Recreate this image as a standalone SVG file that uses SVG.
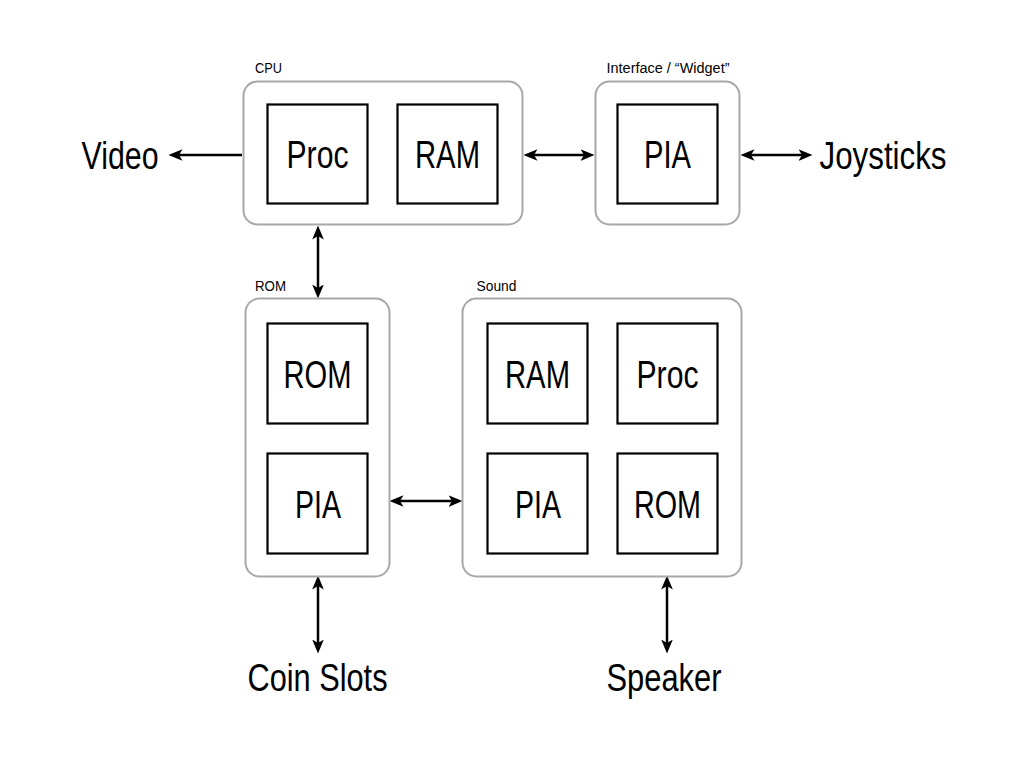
<svg xmlns="http://www.w3.org/2000/svg" width="1024" height="768" viewBox="0 0 1024 768">
<defs>
<style>
.grp{fill:#fff;stroke:#a8a8a8;stroke-width:2}
.box{fill:#fff;stroke:#000;stroke-width:2.2}
.big{font-family:"Liberation Sans Narrow","Liberation Sans",Arial,sans-serif;font-size:38px;fill:#000;text-anchor:middle}
.sm{font-family:"Liberation Sans Narrow","Liberation Sans",Arial,sans-serif;font-size:14px;fill:#000}
.con{stroke:#000;stroke-width:2.5;fill:none;marker-end:url(#ah)}
.bi{marker-start:url(#ah)}
</style>
<marker id="ah" markerUnits="userSpaceOnUse" markerWidth="14" markerHeight="12" refX="3" refY="5" orient="auto-start-reverse" viewBox="0 0 12 10">
<path d="M0,0 L12,5 L0,10 L3,5 z" fill="#000"/>
</marker>
</defs>
<rect width="1024" height="768" fill="#fff"/>

<g id="connectors">
<line class="con" x1="242" y1="155" x2="179" y2="155"/>
<line class="con bi" x1="534" y1="155" x2="584" y2="155"/>
<line class="con bi" x1="751" y1="155" x2="802" y2="155"/>
<line class="con bi" x1="318" y1="236" x2="318" y2="288"/>
<line class="con bi" x1="400" y1="501" x2="452" y2="501"/>
<line class="con bi" x1="318" y1="586" x2="318" y2="643"/>
<line class="con bi" x1="667" y1="586" x2="667" y2="643"/>
</g>

<g id="cpu">
<rect class="grp" x="243.5" y="81.5" width="279" height="143" rx="14"/>
<text class="sm" x="255" y="73" textLength="27" lengthAdjust="spacingAndGlyphs">CPU</text>
<g id="cpu-proc">
<rect class="box" x="267.5" y="104.5" width="100" height="99"/>
<text class="big" x="317.5" y="167.5" textLength="62" lengthAdjust="spacingAndGlyphs">Proc</text>
</g>
<g id="cpu-ram">
<rect class="box" x="397.5" y="104.5" width="100" height="99"/>
<text class="big" x="447.5" y="167.5" textLength="65" lengthAdjust="spacingAndGlyphs">RAM</text>
</g>
</g>

<g id="interface">
<rect class="grp" x="595.5" y="81.5" width="144" height="143" rx="14"/>
<text class="sm" x="606.5" y="73" textLength="123" lengthAdjust="spacingAndGlyphs">Interface / “Widget”</text>
<g id="if-pia">
<rect class="box" x="617.5" y="104.5" width="100" height="99"/>
<text class="big" x="667.5" y="167.5" textLength="47" lengthAdjust="spacingAndGlyphs">PIA</text>
</g>
</g>

<g id="rom">
<rect class="grp" x="245.5" y="298.5" width="144" height="278" rx="14"/>
<text class="sm" x="255" y="291" textLength="31" lengthAdjust="spacingAndGlyphs">ROM</text>
<g id="rom-rom">
<rect class="box" x="267.5" y="323.5" width="100" height="100"/>
<text class="big" x="317.5" y="387.5" textLength="68" lengthAdjust="spacingAndGlyphs">ROM</text>
</g>
<g id="rom-pia">
<rect class="box" x="267.5" y="453.5" width="100" height="100"/>
<text class="big" x="318" y="517.5" textLength="46" lengthAdjust="spacingAndGlyphs">PIA</text>
</g>
</g>

<g id="sound">
<rect class="grp" x="462.5" y="298.5" width="279" height="278" rx="14"/>
<text class="sm" x="476.5" y="291" textLength="40" lengthAdjust="spacingAndGlyphs">Sound</text>
<g id="snd-ram">
<rect class="box" x="487.5" y="323.5" width="100" height="100"/>
<text class="big" x="537.5" y="387.5" textLength="65" lengthAdjust="spacingAndGlyphs">RAM</text>
</g>
<g id="snd-proc">
<rect class="box" x="617.5" y="323.5" width="100" height="100"/>
<text class="big" x="667.5" y="387.5" textLength="62" lengthAdjust="spacingAndGlyphs">Proc</text>
</g>
<g id="snd-pia">
<rect class="box" x="487.5" y="453.5" width="100" height="100"/>
<text class="big" x="538" y="517.5" textLength="46" lengthAdjust="spacingAndGlyphs">PIA</text>
</g>
<g id="snd-rom">
<rect class="box" x="617.5" y="453.5" width="100" height="100"/>
<text class="big" x="667.5" y="517.5" textLength="67" lengthAdjust="spacingAndGlyphs">ROM</text>
</g>
</g>

<g id="video"><text class="big" x="120" y="168.5" textLength="77" lengthAdjust="spacingAndGlyphs">Video</text></g>
<g id="joysticks"><text class="big" x="883" y="168.5" textLength="127" lengthAdjust="spacingAndGlyphs">Joysticks</text></g>
<g id="coinslots"><text class="big" x="317.5" y="690.5" textLength="140" lengthAdjust="spacingAndGlyphs">Coin Slots</text></g>
<g id="speaker"><text class="big" x="664" y="690.5" textLength="115" lengthAdjust="spacingAndGlyphs">Speaker</text></g>
</svg>
